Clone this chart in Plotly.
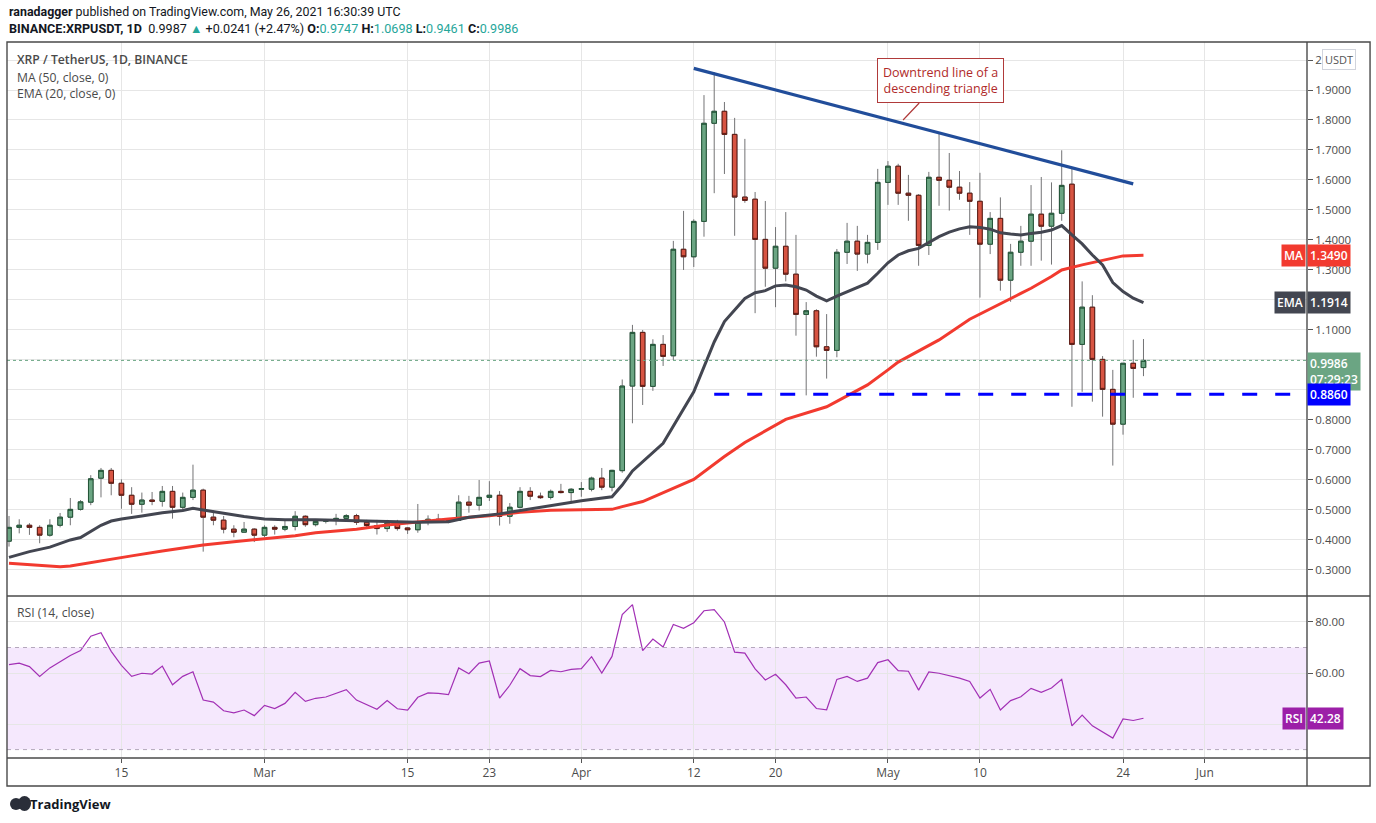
import plotly.graph_objects as go
import pandas as pd

# daily candles, Feb 4 .. May 26 2021 (112 days)
dates = pd.date_range('2021-02-04', '2021-05-26', freq='D').strftime('%Y-%m-%d').tolist()

opens = [0.396, 0.442, 0.449, 0.442, 0.416, 0.449, 0.476, 0.502, 0.526, 0.606,
         0.632, 0.589, 0.549, 0.519, 0.533, 0.529, 0.562, 0.509, 0.542, 0.566,
         0.476, 0.466, 0.436, 0.426, 0.436, 0.416, 0.442, 0.436, 0.445, 0.479,
         0.451, 0.462, 0.466, 0.472, 0.481, 0.459, 0.448, 0.438, 0.456, 0.440,
         0.434, 0.459, 0.469, 0.468, 0.466, 0.526, 0.516, 0.542, 0.549, 0.479,
         0.509, 0.562, 0.546, 0.542, 0.562, 0.558, 0.569, 0.569, 0.606, 0.576,
         0.631, 0.913, 1.092, 0.912, 1.052, 1.014, 1.369, 1.344, 1.462, 1.789,
         1.829, 1.752, 1.543, 1.536, 1.402, 1.306, 1.379, 1.286, 1.152, 1.164,
         1.044, 1.032, 1.359, 1.396, 1.353, 1.392, 1.592, 1.646, 1.556, 1.549,
         1.382, 1.609, 1.599, 1.576, 1.556, 1.529, 1.386, 1.472, 1.266, 1.359,
         1.396, 1.486, 1.446, 1.489, 1.586, 1.052, 1.176, 1.002, 0.902, 0.786,
         0.989, 0.9747]
highs = [0.480, 0.469, 0.456, 0.449, 0.469, 0.490, 0.540, 0.533, 0.616, 0.640,
         0.640, 0.602, 0.576, 0.558, 0.560, 0.580, 0.580, 0.558, 0.651, 0.571,
         0.498, 0.480, 0.449, 0.460, 0.439, 0.449, 0.449, 0.469, 0.496, 0.482,
         0.468, 0.470, 0.487, 0.486, 0.487, 0.467, 0.467, 0.467, 0.467, 0.442,
         0.520, 0.482, 0.487, 0.470, 0.549, 0.547, 0.600, 0.596, 0.563, 0.523,
         0.576, 0.576, 0.558, 0.568, 0.587, 0.573, 0.593, 0.611, 0.640, 0.634,
         0.935, 1.117, 1.100, 1.069, 1.083, 1.397, 1.497, 1.469, 1.883, 1.959,
         1.860, 1.807, 1.737, 1.560, 1.530, 1.443, 1.493, 1.417, 1.193, 1.169,
         1.153, 1.370, 1.457, 1.447, 1.417, 1.637, 1.663, 1.654, 1.617, 1.553,
         1.627, 1.759, 1.690, 1.630, 1.593, 1.624, 1.493, 1.542, 1.387, 1.447,
         1.583, 1.610, 1.592, 1.699, 1.640, 1.262, 1.216, 1.013, 0.967, 0.989,
         1.067, 1.0698]
lows = [0.378, 0.422, 0.417, 0.389, 0.411, 0.442, 0.449, 0.498, 0.516, 0.542,
        0.549, 0.504, 0.487, 0.491, 0.516, 0.511, 0.471, 0.502, 0.533, 0.361,
        0.449, 0.422, 0.409, 0.424, 0.393, 0.409, 0.418, 0.429, 0.432, 0.444,
        0.445, 0.455, 0.449, 0.467, 0.450, 0.439, 0.418, 0.427, 0.431, 0.420,
        0.424, 0.449, 0.460, 0.456, 0.465, 0.491, 0.498, 0.530, 0.448, 0.454,
        0.505, 0.533, 0.537, 0.535, 0.555, 0.522, 0.544, 0.562, 0.566, 0.562,
        0.624, 0.789, 0.850, 0.897, 0.980, 1.000, 1.300, 1.310, 1.411, 1.556,
        1.620, 1.414, 1.524, 1.156, 1.244, 1.176, 1.262, 1.081, 0.882, 1.011,
        0.938, 1.009, 1.320, 1.297, 1.322, 1.367, 1.517, 1.517, 1.464, 1.314,
        1.350, 1.514, 1.498, 1.534, 1.417, 1.208, 1.353, 1.231, 1.194, 1.314,
        1.314, 1.331, 1.318, 1.464, 0.844, 0.894, 0.861, 0.811, 0.648, 0.751,
        0.874, 0.9461]
closes = [0.442, 0.449, 0.442, 0.416, 0.449, 0.476, 0.502, 0.527, 0.604, 0.632,
          0.589, 0.549, 0.519, 0.533, 0.529, 0.562, 0.509, 0.542, 0.566, 0.476,
          0.466, 0.436, 0.426, 0.436, 0.416, 0.442, 0.436, 0.445, 0.479, 0.451,
          0.462, 0.466, 0.472, 0.481, 0.459, 0.448, 0.438, 0.456, 0.438, 0.434,
          0.459, 0.469, 0.464, 0.465, 0.526, 0.516, 0.542, 0.549, 0.479, 0.509,
          0.562, 0.546, 0.541, 0.562, 0.558, 0.569, 0.571, 0.606, 0.576, 0.632,
          0.913, 1.092, 0.912, 1.052, 1.012, 1.369, 1.344, 1.462, 1.789, 1.829,
          1.752, 1.543, 1.532, 1.402, 1.306, 1.379, 1.286, 1.152, 1.164, 1.044,
          1.032, 1.359, 1.396, 1.353, 1.392, 1.592, 1.646, 1.556, 1.549, 1.382,
          1.609, 1.599, 1.576, 1.556, 1.529, 1.386, 1.472, 1.266, 1.359, 1.396,
          1.486, 1.446, 1.489, 1.582, 1.052, 1.176, 1.002, 0.902, 0.786, 0.989,
          0.972, 0.9986]

# RSI (14, close)
rsi = [63.3, 63.9, 62.5, 58.7, 62.0, 64.6, 66.9, 68.8, 74.4, 75.8,
       68.5, 63.0, 58.7, 59.9, 59.6, 62.7, 55.4, 58.7, 60.5, 49.4,
       48.6, 45.2, 44.4, 45.5, 43.3, 47.3, 46.1, 48.1, 52.4, 48.9,
       50.1, 50.6, 51.9, 53.5, 49.4, 47.7, 45.8, 49.2, 46.0, 45.5,
       50.5, 52.2, 52.0, 51.5, 62.0, 59.7, 63.9, 64.7, 50.2, 55.2,
       61.7, 59.0, 58.6, 61.0, 60.5, 61.4, 61.7, 66.4, 60.0, 66.5,
       82.9, 86.8, 68.8, 73.3, 70.2, 79.0, 77.5, 79.7, 84.4, 84.8,
       80.0, 68.2, 67.8, 61.6, 57.3, 59.5, 55.4, 50.2, 50.6, 46.1,
       45.6, 57.5, 58.7, 56.7, 58.0, 64.1, 65.2, 60.9, 60.7, 53.3,
       60.4, 59.9, 59.0, 58.0, 56.7, 50.2, 53.6, 45.5, 49.2, 50.7,
       54.0, 52.4, 54.1, 57.5, 39.3, 43.5, 39.3, 37.0, 34.5, 42.0,
       41.4, 42.28]

# EMA (20) at these day indexes
ema_idx = [0, 2, 4, 6, 7, 9, 10, 11, 13, 15, 17, 18, 19, 21, 23, 25, 27, 30, 34, 37,
           40, 43, 45, 48, 50, 53, 56, 59, 60, 61, 62, 64, 67, 68, 69, 70, 72, 73, 74, 75,
           76, 77, 78, 79, 80, 81, 82, 83, 84, 85, 86, 87, 88, 89, 90, 91, 92, 93, 94, 95,
           96, 97, 98, 99, 100, 101, 102, 103, 104, 105, 106, 107, 108, 109, 110, 111]
ema_vals = [0.342, 0.361, 0.376, 0.400, 0.408, 0.449, 0.463, 0.470, 0.480, 0.491,
            0.498, 0.506, 0.500, 0.489, 0.478, 0.470, 0.467, 0.467, 0.464, 0.461,
            0.459, 0.461, 0.476, 0.487, 0.498, 0.517, 0.531, 0.544, 0.583, 0.630,
            0.661, 0.722, 0.894, 0.980, 1.060, 1.128, 1.205, 1.224, 1.231, 1.247,
            1.250, 1.244, 1.233, 1.213, 1.197, 1.213, 1.228, 1.242, 1.256, 1.289,
            1.324, 1.350, 1.364, 1.372, 1.391, 1.411, 1.426, 1.437, 1.444, 1.442,
            1.436, 1.424, 1.420, 1.417, 1.422, 1.426, 1.433, 1.448, 1.417, 1.387,
            1.350, 1.317, 1.258, 1.228, 1.206, 1.191]

# MA (50)
ma_idx = [0, 2, 5, 6, 9, 12, 15, 19, 22, 25, 28, 30, 34, 37, 40, 43, 47, 50, 53, 57,
          59, 60, 62, 67, 70, 72, 76, 80, 84, 86, 87, 91, 94, 99, 100, 102, 103, 105, 107, 109, 111]
ma_vals = [0.322, 0.317, 0.311, 0.313, 0.331, 0.347, 0.363, 0.383, 0.394, 0.403,
           0.414, 0.424, 0.436, 0.450, 0.461, 0.470, 0.481, 0.492, 0.499, 0.501,
           0.502, 0.511, 0.528, 0.602, 0.678, 0.725, 0.802, 0.844, 0.917, 0.967,
           0.993, 1.067, 1.136, 1.222, 1.239, 1.278, 1.300, 1.317, 1.333, 1.347, 1.349]

# drawings
trend_dates = ['2021-04-12', '2021-05-25']
trend_prices = [1.972, 1.587]
support_start = '2021-04-14'
support_level = 0.886
last_price = 0.9986

tick_dates = ['2021-02-15', '2021-03-01', '2021-03-15', '2021-03-23', '2021-04-01', '2021-04-12',
              '2021-04-20', '2021-05-01', '2021-05-10', '2021-05-24', '2021-06-01']
tick_text = ['15', 'Mar', '15', '23', 'Apr', '12', '20', 'May', '10', '24', 'Jun']

# price axis ticks; the ones sitting under the value tags are left blank
price_ticks = [0.3, 0.4, 0.5, 0.6, 0.7, 0.8, 0.9, 1.0, 1.1, 1.2, 1.3, 1.4, 1.5, 1.6, 1.7, 1.8, 1.9, 2.0]
price_tick_text = ['0.3000', '0.4000', '0.5000', '0.6000', '0.7000', '0.8000', '', '', '1.1000', '',
                   '1.3000', '1.4000', '1.5000', '1.6000', '1.7000', '1.8000', '1.9000', '2']
rsi_ticks = [40, 60, 80]
rsi_tick_text = ['', '60.00', '80.00']

x_range = ['2021-02-03 19:18', '2021-06-11 00:00']

UP_FILL, UP_EDGE = '#6ba583', '#225437'
DN_FILL, DN_EDGE = '#d75442', '#5b1a13'
WICK = '#737375'
MA_COLOR = '#f23a2f'
EMA_COLOR = '#434651'
RSI_COLOR = '#a230b5'
GRID = '#e6e6e6'
FRAME = '#4a4a4a'
FONT = 'Open Sans'
HFONT = 'Roboto'

fig = go.Figure()

# wicks (gray)
fig.add_trace(go.Candlestick(
    x=dates, open=opens, high=highs, low=lows, close=closes,
    increasing=dict(line=dict(color=WICK, width=1), fillcolor=UP_FILL),
    decreasing=dict(line=dict(color=WICK, width=1), fillcolor=DN_FILL),
    hoverinfo='skip', xaxis='x', yaxis='y', showlegend=False))

# bodies with dark border
body_hi = [max(o, c) for o, c in zip(opens, closes)]
body_lo = [min(o, c) for o, c in zip(opens, closes)]
fig.add_trace(go.Candlestick(
    x=dates, open=opens, high=body_hi, low=body_lo, close=closes,
    increasing=dict(line=dict(color=UP_EDGE, width=1), fillcolor=UP_FILL),
    decreasing=dict(line=dict(color=DN_EDGE, width=1), fillcolor=DN_FILL),
    hoverinfo='skip', xaxis='x', yaxis='y', showlegend=False))

fig.add_trace(go.Scatter(
    x=[dates[i] for i in ma_idx], y=ma_vals, mode='lines',
    line=dict(color=MA_COLOR, width=3), hoverinfo='skip', showlegend=False))
fig.add_trace(go.Scatter(
    x=[dates[i] for i in ema_idx], y=ema_vals, mode='lines',
    line=dict(color=EMA_COLOR, width=3), hoverinfo='skip', showlegend=False))

fig.add_trace(go.Scatter(
    x=trend_dates, y=trend_prices, mode='lines',
    line=dict(color='#214d9a', width=3.2), hoverinfo='skip', showlegend=False))

fig.add_trace(go.Scatter(
    x=dates, y=rsi, mode='lines', xaxis='x2', yaxis='y2',
    line=dict(color=RSI_COLOR, width=1.2), hoverinfo='skip', showlegend=False))

P_BOT = 0.2263   # price pane bottom (paper)
R_TOP = 0.2249   # rsi pane top (paper)
RIGHT = 1.0485   # outer frame right edge (paper)
BOTTOM = -0.0391

shapes = [
    # rsi band 30..70
    dict(type='rect', xref='paper', yref='y2', x0=0, x1=1, y0=30, y1=70,
         fillcolor='rgba(180, 80, 240, 0.13)', line=dict(width=0), layer='between'),
    dict(type='line', xref='paper', yref='y2', x0=0, x1=1, y0=70, y1=70,
         line=dict(color='#b4a8bc', width=1, dash='4px,4px')),
    dict(type='line', xref='paper', yref='y2', x0=0, x1=1, y0=30, y1=30,
         line=dict(color='#b4a8bc', width=1, dash='4px,4px')),
    # last price dotted line
    dict(type='line', xref='paper', yref='y', x0=0, x1=1, y0=last_price, y1=last_price,
         line=dict(color=UP_FILL, width=1, dash='dot')),
    # support line
    dict(type='line', xref='x', yref='y', x0=support_start, x1=x_range[1],
         y0=support_level, y1=support_level,
         line=dict(color='#0000ff', width=3, dash='15px,18px')),
    # frame
    dict(type='rect', xref='paper', yref='paper', x0=0, x1=RIGHT, y0=BOTTOM, y1=1,
         line=dict(color=FRAME, width=1.4)),
    dict(type='line', xref='paper', yref='paper', x0=1, x1=1, y0=BOTTOM, y1=1,
         line=dict(color=FRAME, width=1.4)),
    dict(type='line', xref='paper', yref='paper', x0=0, x1=RIGHT, y0=P_BOT, y1=P_BOT,
         line=dict(color=FRAME, width=1.4)),
    dict(type='line', xref='paper', yref='paper', x0=0, x1=RIGHT, y0=0, y1=0,
         line=dict(color=FRAME, width=1.4)),
    # small logo blob
    dict(type='circle', xref='paper', yref='paper', x0=3 / 1300, x1=15 / 1300,
         y0=-52 / 716, y1=-40 / 716, fillcolor='#2a2e39', line=dict(width=0)),
    dict(type='circle', xref='paper', yref='paper', x0=11 / 1300, x1=24 / 1300,
         y0=-53 / 716, y1=-38 / 716, fillcolor='#2a2e39', line=dict(width=0)),
]


def axis_tag(y, text, bg, yref='y', name=None, yanchor='middle', yshift=0):
    out = [dict(xref='paper', yref=yref, x=1, y=y, xanchor='left', yanchor=yanchor,
                yshift=yshift, text=text, showarrow=False, bgcolor=bg, borderpad=2,
                font=dict(family=FONT, size=12, color='white', weight=600), align='left')]
    if name:
        out.append(dict(xref='paper', yref=yref, x=1, y=y, xanchor='right', yanchor=yanchor,
                        xshift=-1, yshift=yshift, text=name, showarrow=False, bgcolor=bg,
                        borderpad=2, font=dict(family=FONT, size=12, color='white', weight=600)))
    return out


green = '#26a69a'
header2 = ('<b>BINANCE:XRPUSDT, 1D</b>  0.9987 <span style="color:%s">▲</span> +0.0241 (+2.47%%) '
           '<b>O:</b><span style="color:%s">0.9747</span> <b>H:</b><span style="color:%s">1.0698</span> '
           '<b>L:</b><span style="color:%s">0.9461</span> <b>C:</b><span style="color:%s">0.9986</span>'
           % (green, green, green, green, green))

annotations = [
    dict(xref='paper', yref='paper', x=0, y=1.0419, xanchor='left', yanchor='middle',
         text='<b>ranadagger</b> published on TradingView.com, May 26, 2021 16:30:39 UTC',
         showarrow=False, font=dict(family=HFONT, size=12.4, color='#131722')),
    dict(xref='paper', yref='paper', x=0, y=1.0182, xanchor='left', yanchor='middle',
         text=header2, showarrow=False, font=dict(family=HFONT, size=12.6, color='#131722')),
    dict(xref='paper', yref='paper', x=0.006, y=0.9749, xanchor='left', yanchor='middle',
         text='XRP / TetherUS, 1D, BINANCE', showarrow=False,
         font=dict(family=FONT, size=12.2, color='#4a4a4a', weight=600)),
    dict(xref='paper', yref='paper', x=0.006, y=0.9511, xanchor='left', yanchor='middle',
         text='MA (50, close, 0)', showarrow=False, font=dict(family=FONT, size=12.2, color='#4a4a4a')),
    dict(xref='paper', yref='paper', x=0.006, y=0.9274, xanchor='left', yanchor='middle',
         text='EMA (20, close, 0)', showarrow=False, font=dict(family=FONT, size=12.2, color='#4a4a4a')),
    dict(xref='paper', yref='paper', x=0.006, y=0.2039, xanchor='left', yanchor='middle',
         text='RSI (14, close)', showarrow=False, font=dict(family=FONT, size=12.2, color='#4a4a4a')),
    dict(xref='paper', yref='paper', x=21 / 1300, y=-0.0642, xanchor='left', yanchor='middle',
         text='<b>TradingView</b>', showarrow=False, font=dict(family=FONT, size=13, color='#131722')),
    dict(xref='paper', yref='paper', x=1.0115, y=0.9755, xanchor='left', yanchor='middle',
         text='USDT', showarrow=False, bgcolor='white', bordercolor='#d1d4dc', borderwidth=1,
         borderpad=2, font=dict(family=FONT, size=11, color='#555')),
    # callout
    dict(xref='x', yref='y', x='2021-05-02 11:30', y=1.80, ax=37, ay=-39,
         text='Downtrend line of a<br>descending triangle', showarrow=True,
         arrowhead=0, arrowwidth=1.2, arrowcolor='#b03a3a',
         bgcolor='white', bordercolor='#b03a3a', borderwidth=1, borderpad=5,
         font=dict(family=FONT, size=12.5, color='#b02a2a')),
]
annotations += axis_tag(ma_vals[-1], '1.3490', MA_COLOR, name='MA')
annotations += axis_tag(ema_vals[-1], '1.1914', EMA_COLOR, name='EMA')
annotations += axis_tag(last_price, '0.9986<br>07:29:23', UP_FILL, yanchor='top', yshift=8)
annotations += axis_tag(support_level, '0.8860', '#0000ff')
annotations += axis_tag(rsi[-1], '42.28', '#9c1fa8', yref='y2', name='RSI')

axis_font = dict(family=FONT, size=11.5, color='#4c4c4c')

fig.update_layout(
    width=1376, height=823,
    margin=dict(l=7, r=69, t=42, b=65),
    paper_bgcolor='white', plot_bgcolor='white',
    showlegend=False, hovermode=False, boxgap=0.36,
    font=dict(family=FONT),
    xaxis=dict(domain=[0, 1], anchor='y', type='date', range=x_range,
               tickvals=tick_dates, showticklabels=False, showgrid=True, gridcolor=GRID,
               zeroline=False, showline=False, rangeslider=dict(visible=False), ticks=''),
    xaxis2=dict(domain=[0, 1], anchor='y2', type='date', range=x_range, matches='x',
                tickvals=tick_dates, ticktext=tick_text, showgrid=True, gridcolor=GRID,
                zeroline=False, showline=False, ticks='outside', ticklen=4,
                tickcolor='#555', tickfont=dict(family=FONT, size=12, color='#4c4c4c'),
                rangeslider=dict(visible=False)),
    yaxis=dict(domain=[P_BOT, 1], anchor='x', side='right', range=[0.2133, 2.06],
               tickvals=price_ticks, ticktext=price_tick_text, showgrid=True, gridcolor=GRID,
               zeroline=False, showline=False, ticks='outside', ticklen=5, tickcolor='#555',
               tickfont=axis_font),
    yaxis2=dict(domain=[0, R_TOP], anchor='x2', side='right', range=[26.7, 89.8],
                tickvals=rsi_ticks, ticktext=rsi_tick_text, showgrid=True, gridcolor=GRID,
                zeroline=False, showline=False, ticks='outside', ticklen=5, tickcolor='#555',
                tickfont=axis_font),
    shapes=shapes,
    annotations=annotations,
)

# drop the default page margin so the figure sits at the window's top-left corner
fig.write_html('out.html', config={'displayModeBar': False},
               post_script="document.body.style.margin='0';")
